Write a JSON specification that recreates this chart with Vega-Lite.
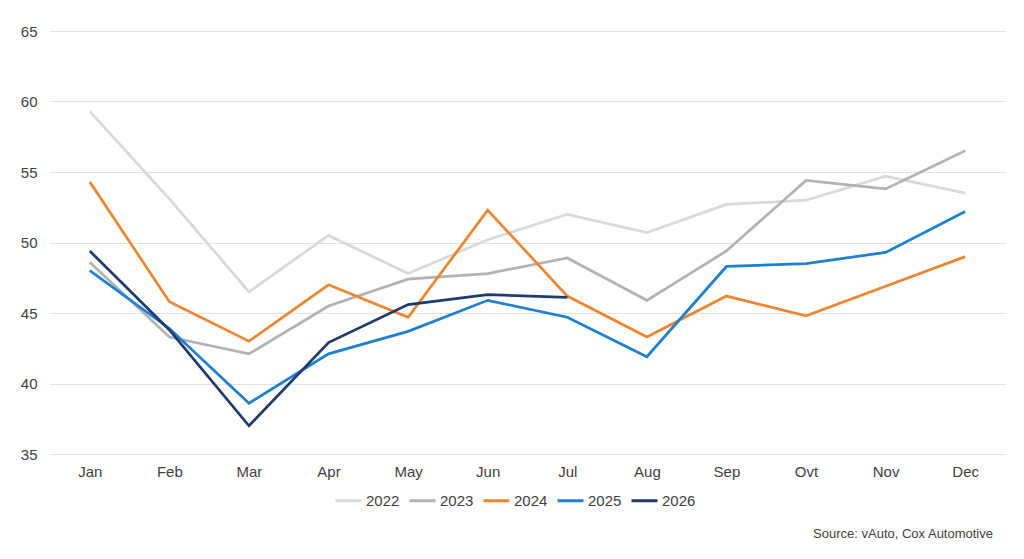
{
  "$schema": "https://vega.github.io/schema/vega-lite/v6.json",
  "width": 955,
  "height": 423,
  "autosize": {"type": "none"},
  "padding": {"left": 50, "top": 31, "right": 19, "bottom": 105},
  "background": "white",
  "config": {
    "font": "Liberation Sans",
    "view": {"stroke": null}
  },
  "title": {
    "text": "Source: vAuto, Cox Automotive",
    "orient": "bottom",
    "anchor": "end",
    "fontSize": 13,
    "fontWeight": "normal",
    "color": "#404040",
    "offset": 19,
    "dx": -12
  },
  "data": {
    "values": [
      {"month": "Jan", "year": "2022", "value": 59.3},
      {"month": "Feb", "year": "2022", "value": 53.1},
      {"month": "Mar", "year": "2022", "value": 46.5},
      {"month": "Apr", "year": "2022", "value": 50.5},
      {"month": "May", "year": "2022", "value": 47.8},
      {"month": "Jun", "year": "2022", "value": 50.2},
      {"month": "Jul", "year": "2022", "value": 52.0},
      {"month": "Aug", "year": "2022", "value": 50.7},
      {"month": "Sep", "year": "2022", "value": 52.7},
      {"month": "Ovt", "year": "2022", "value": 53.0},
      {"month": "Nov", "year": "2022", "value": 54.7},
      {"month": "Dec", "year": "2022", "value": 53.5},
      {"month": "Jan", "year": "2023", "value": 48.6},
      {"month": "Feb", "year": "2023", "value": 43.3},
      {"month": "Mar", "year": "2023", "value": 42.1},
      {"month": "Apr", "year": "2023", "value": 45.5},
      {"month": "May", "year": "2023", "value": 47.4},
      {"month": "Jun", "year": "2023", "value": 47.8},
      {"month": "Jul", "year": "2023", "value": 48.9},
      {"month": "Aug", "year": "2023", "value": 45.9},
      {"month": "Sep", "year": "2023", "value": 49.4},
      {"month": "Ovt", "year": "2023", "value": 54.4},
      {"month": "Nov", "year": "2023", "value": 53.8},
      {"month": "Dec", "year": "2023", "value": 56.5},
      {"month": "Jan", "year": "2024", "value": 54.3},
      {"month": "Feb", "year": "2024", "value": 45.8},
      {"month": "Mar", "year": "2024", "value": 43.0},
      {"month": "Apr", "year": "2024", "value": 47.0},
      {"month": "May", "year": "2024", "value": 44.7},
      {"month": "Jun", "year": "2024", "value": 52.3},
      {"month": "Jul", "year": "2024", "value": 46.2},
      {"month": "Aug", "year": "2024", "value": 43.3},
      {"month": "Sep", "year": "2024", "value": 46.2},
      {"month": "Ovt", "year": "2024", "value": 44.8},
      {"month": "Nov", "year": "2024", "value": 46.9},
      {"month": "Dec", "year": "2024", "value": 49.0},
      {"month": "Jan", "year": "2025", "value": 48.0},
      {"month": "Feb", "year": "2025", "value": 43.9},
      {"month": "Mar", "year": "2025", "value": 38.6},
      {"month": "Apr", "year": "2025", "value": 42.1},
      {"month": "May", "year": "2025", "value": 43.7},
      {"month": "Jun", "year": "2025", "value": 45.9},
      {"month": "Jul", "year": "2025", "value": 44.7},
      {"month": "Aug", "year": "2025", "value": 41.9},
      {"month": "Sep", "year": "2025", "value": 48.3},
      {"month": "Ovt", "year": "2025", "value": 48.5},
      {"month": "Nov", "year": "2025", "value": 49.3},
      {"month": "Dec", "year": "2025", "value": 52.2},
      {"month": "Jan", "year": "2026", "value": 49.4},
      {"month": "Feb", "year": "2026", "value": 43.8},
      {"month": "Mar", "year": "2026", "value": 37.0},
      {"month": "Apr", "year": "2026", "value": 42.9},
      {"month": "May", "year": "2026", "value": 45.6},
      {"month": "Jun", "year": "2026", "value": 46.3},
      {"month": "Jul", "year": "2026", "value": 46.1}
    ]
  },
  "mark": {"type": "line", "strokeWidth": 2.75, "strokeJoin": "miter"},
  "encoding": {
    "x": {
      "field": "month",
      "type": "ordinal",
      "sort": ["Jan", "Feb", "Mar", "Apr", "May", "Jun", "Jul", "Aug", "Sep", "Ovt", "Nov", "Dec"],
      "scale": {"type": "point", "padding": 0.5},
      "axis": {
        "title": null,
        "labelAngle": 0,
        "labelFontSize": 15,
        "labelColor": "#404040",
        "labelPadding": 10,
        "ticks": false,
        "domain": false,
        "grid": false
      }
    },
    "y": {
      "field": "value",
      "type": "quantitative",
      "scale": {"domain": [35, 65], "nice": false, "zero": false},
      "axis": {
        "title": null,
        "values": [35, 40, 45, 50, 55, 60, 65],
        "labelFontSize": 15,
        "labelColor": "#404040",
        "labelPadding": 13,
        "ticks": false,
        "domain": false,
        "grid": true,
        "gridColor": "#e3e3e3",
        "gridWidth": 1
      }
    },
    "color": {
      "field": "year",
      "type": "nominal",
      "scale": {
        "domain": ["2022", "2023", "2024", "2025", "2026"],
        "range": ["#d9d9d9", "#b3b3b3", "#ee8631", "#1f80d0", "#1f3b6e"]
      },
      "legend": {
        "title": null,
        "orient": "none",
        "direction": "horizontal",
        "legendX": 284,
        "legendY": 455,
        "symbolType": "stroke",
        "symbolSize": 676,
        "symbolStrokeWidth": 3,
        "labelFontSize": 15,
        "labelColor": "#404040",
        "labelOffset": 3,
        "columnPadding": 3
      }
    }
  }
}
